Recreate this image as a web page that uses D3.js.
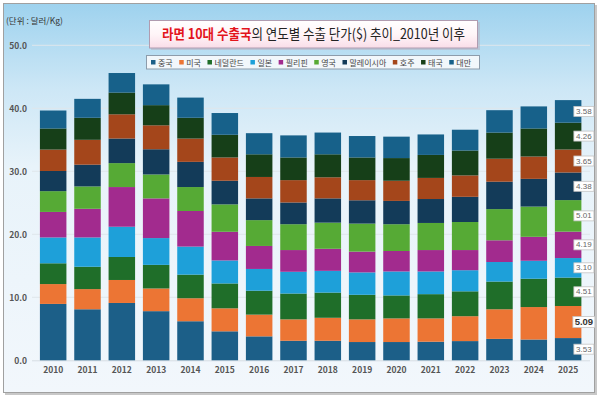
<!DOCTYPE html>
<html><head><meta charset="utf-8">
<script src="https://cdn.jsdelivr.net/npm/d3@7"></script>
<style>
html,body{margin:0;padding:0;background:#fff;}
svg{display:block;font-family:"Noto Sans CJK KR","Noto Sans",sans-serif;}
</style></head>
<body><svg id="chart" width="600" height="400"></svg>
<script>
const years = ["2010","2011","2012","2013","2014","2015","2016","2017","2018","2019","2020","2021","2022","2023","2024","2025"];
const countries = ["중국","미국","네덜란드","일본","필리핀","영국","말레이시아","호주","태국","대만"];
const colors = ["#1c5f88","#ec7534","#1f6e29","#1ea0d9","#a22b8e","#56aa35","#133b59","#a4461b","#163f18","#17618a"];
const china       = [8.95,8.10,9.10,7.80,6.20,4.60,3.80,3.10,3.10,2.90,2.90,2.95,3.05,3.40,3.30,3.53];
const usa         = [3.15,3.20,3.65,3.60,3.65,3.65,3.45,3.40,3.65,3.60,3.75,3.70,3.95,4.70,5.15,5.09];
const netherlands = [3.30,3.55,3.65,3.75,3.75,3.95,3.80,4.10,4.00,3.90,3.65,3.85,3.95,4.40,4.50,4.51];
const japan       = [4.10,4.65,4.80,4.25,4.45,3.65,3.45,3.45,3.45,3.55,3.80,3.60,3.35,3.10,2.85,3.10];
const philippines = [4.05,4.55,6.30,6.30,5.65,4.55,3.65,3.45,3.50,3.30,3.25,3.40,3.20,3.45,3.80,4.19];
const uk          = [3.30,3.55,3.80,3.80,3.80,4.35,4.10,4.10,4.15,4.45,4.25,4.30,4.45,4.95,4.80,5.01];
const malaysia    = [3.20,3.45,3.90,4.00,4.00,3.75,3.45,3.45,3.85,3.70,3.70,3.80,4.00,4.35,4.40,4.38];
const australia   = [3.40,3.95,3.85,3.80,3.70,3.70,3.40,3.55,3.35,3.20,3.20,3.35,3.40,3.65,3.55,3.65];
const thailand    = [3.35,3.50,3.45,3.20,3.30,3.60,3.60,3.60,3.65,3.60,3.60,3.65,3.95,4.15,4.45,4.26];
const taiwan      = [2.85,3.00,3.10,3.30,3.20,3.45,3.35,3.50,3.45,3.40,3.40,3.25,3.30,3.55,3.50,3.58];
const seriesValues = [china,usa,netherlands,japan,philippines,uk,malaysia,australia,thailand,taiwan];
const yTicks = [0,10,20,30,40,50];
const titleRed = "라면 10대 수출국";
const titleRest = "의 연도별 수출 단가($) 추이_2010년 이후";
const unitLabel = "(단위 : 달러/Kg)";

const svg = d3.select("#chart");
const defs = svg.append("defs");
const bg = defs.append("linearGradient").attr("id","bg").attr("x1",0).attr("y1",0).attr("x2",0).attr("y2",1);
[[0,"#9ed2ee"],[0.22,"#cde7f6"],[0.42,"#e8f3fa"],[1,"#f2f7fc"]].forEach(s=>bg.append("stop").attr("offset",s[0]).attr("stop-color",s[1]));
const tg = defs.append("linearGradient").attr("id","tg").attr("x1",0).attr("y1",0).attr("x2",0).attr("y2",1);
[[0,"#ffffff"],[0.5,"#fff5f8"],[1,"#f9dde8"]].forEach(s=>tg.append("stop").attr("offset",s[0]).attr("stop-color",s[1]));

// frame
svg.append("rect").attr("x",5).attr("y",5).attr("width",592).attr("height",390).attr("fill","#c8c8c8");
svg.append("rect").attr("x",3.5).attr("y",3.5).attr("width",591).attr("height",389).attr("fill","url(#bg)").attr("stroke","#a0a0a0");

const x = d3.scaleBand().domain(years).range([36,585.3]).paddingInner(0.228).paddingOuter(0.114);
const y = d3.scaleLinear().domain([0,50]).range([360.3,45.3]);

// grid
svg.append("g").selectAll("line").data(yTicks.filter(d=>d>0)).join("line")
  .attr("x1",32).attr("x2",590).attr("y1",d=>y(d)).attr("y2",d=>y(d))
  .attr("stroke","#dfe6ec").attr("stroke-width",1);
svg.append("line").attr("x1",32).attr("x2",590).attr("y1",y(0)+0.5).attr("y2",y(0)+0.5).attr("stroke","#d6dde3");

// y axis labels
const yAxis = d3.axisLeft(y).tickValues(yTicks).tickFormat(d3.format(".1f")).tickSize(0).tickPadding(0);
const ya = svg.append("g").attr("transform","translate(27,0)").call(yAxis);
ya.select(".domain").remove();
ya.selectAll("text").attr("font-size",8.5).attr("font-weight",700).attr("fill","#555").attr("font-family","'Noto Sans CJK KR',sans-serif");

// x axis labels
const xAxis = d3.axisBottom(x).tickSize(0).tickPadding(0);
const xa = svg.append("g").attr("transform",`translate(0,${y(0)+7})`).call(xAxis);
xa.select(".domain").remove();
xa.selectAll("text").attr("font-size",8.5).attr("font-weight",700).attr("fill","#555").attr("font-family","'Noto Sans CJK KR',sans-serif");

// stacked bars
const table = years.map((yr,i)=>{const o={year:yr}; countries.forEach((c,k)=>o[c]=seriesValues[k][i]); return o;});
const stacked = d3.stack().keys(countries)(table);
svg.append("g").selectAll("g").data(stacked).join("g")
  .attr("fill",(d,i)=>colors[i])
  .selectAll("rect").data(d=>d).join("rect")
  .attr("x",d=>x(d.data.year)).attr("width",x.bandwidth())
  .attr("y",d=>y(d[1])).attr("height",d=>y(d[0])-y(d[1]));

// value labels for last year
const lastYear = years[years.length-1];
const li = years.length-1;
const lastVals = seriesValues.map(s=>s[li]);
const maxV = d3.max(lastVals);
const lab = svg.append("g");
stacked.forEach((s,k)=>{
  const d = s[li];
  const cy = y((d[0]+d[1])/2);
  const hi = lastVals[k]===maxV;
  const w = hi?22:20, h = hi?11:10;
  const cx = x(lastYear)+x.bandwidth()+2.5;
  lab.append("rect").attr("x",cx-w/2).attr("y",cy-h/2).attr("width",w).attr("height",h)
    .attr("fill","#fff").attr("stroke","#c4c4c4").attr("stroke-width",0.8);
  lab.append("text").attr("x",cx).attr("y",cy+0.5).attr("text-anchor","middle").attr("dominant-baseline","middle")
    .attr("font-family","'Liberation Sans',Arial,sans-serif")
    .attr("font-size",hi?9.5:8).attr("font-weight",hi?700:400).attr("fill",hi?"#333":"#666")
    .text(d3.format(".2f")(lastVals[k]));
});

// unit label
svg.append("text").attr("x",6).attr("y",24).attr("font-size",8.5).attr("fill","#333").text(unitLabel);

// title box
svg.append("rect").attr("x",151).attr("y",22).attr("width",329).attr("height",28).attr("fill","#b8b8c4").attr("opacity",0.6);
svg.append("rect").attr("x",149.5).attr("y",20.5).attr("width",328).attr("height",27.5).attr("fill","url(#tg)").attr("stroke","#b09cb0");
const tcx = 313.5;
const title = svg.append("text").attr("x",tcx).attr("y",39.5).attr("text-anchor","middle").attr("font-size",14);
title.append("tspan").attr("fill","#e3141c").attr("font-weight",700).text(titleRed);
title.append("tspan").attr("fill","#222").text(titleRest);
const tw = title.node().getComputedTextLength();
const sx = Math.min(1, 303/tw);
title.attr("transform",`translate(${tcx},0) scale(${sx},1) translate(${-tcx},0)`);

// legend
svg.append("rect").attr("x",146.5).attr("y",55.5).attr("width",333).attr("height",13.5).attr("fill","#f2f7fb").attr("stroke","#8d9cab");
const leg = svg.append("g");
let lx = 151;
countries.forEach((c,k)=>{
  leg.append("rect").attr("x",lx).attr("y",60).attr("width",4.5).attr("height",4.5).attr("fill",colors[k]);
  const t = leg.append("text").attr("x",lx+7).attr("y",65.5).attr("font-size",8).attr("fill","#444").text(c);
  lx += 7 + t.node().getComputedTextLength() + 6.5;
});
</script></body></html>
